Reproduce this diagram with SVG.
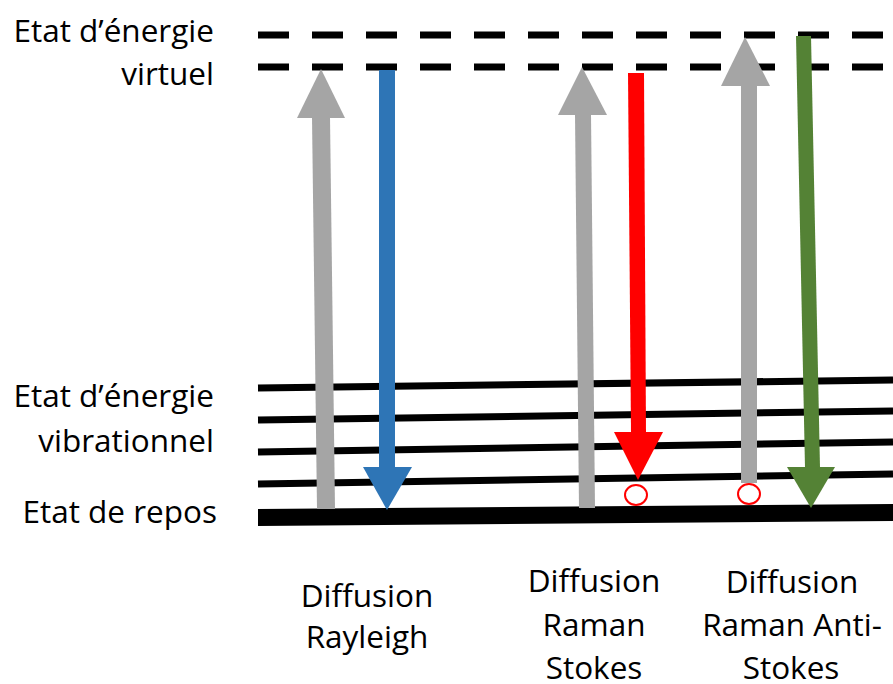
<svg xmlns="http://www.w3.org/2000/svg" width="893" height="684" viewBox="0 0 893 684">
<style>
.t{font-family:"Open Sans","Liberation Sans",sans-serif;font-size:31.5px;fill:#000}
.dash{stroke:#000;stroke-width:7;stroke-dasharray:31 23;fill:none}
.lvl{stroke:#000;stroke-width:7;fill:none}
.gray{fill:#a5a5a5}
.blue{fill:#2e75b6}
.red{fill:#ff0000}
.green{fill:#548235}
.hole{fill:#fff;stroke:#ff0000;stroke-width:2}
</style>
<rect width="893" height="684" fill="#fff"/>
<g id="virtual-level">
<line class="dash" x1="258" y1="35" x2="893" y2="35"/>
<line class="dash" x1="258" y1="67" x2="893" y2="67"/>
</g>
<g id="vibrational-levels">
<line class="lvl" x1="258" y1="388" x2="893" y2="380"/>
<line class="lvl" x1="258" y1="420" x2="893" y2="411"/>
<line class="lvl" x1="258" y1="452" x2="893" y2="442"/>
<line class="lvl" x1="258" y1="484" x2="893" y2="474"/>
</g>
<g id="ground-level">
<polygon points="258,509 893,504 893,521 258,526" fill="#000"/>
</g>
<g id="labels">
<text class="t" x="214" y="42" text-anchor="end">Etat d’énergie</text>
<text class="t" x="214" y="85" text-anchor="end">virtuel</text>
<text class="t" x="214" y="407" text-anchor="end">Etat d’énergie</text>
<text class="t" x="214" y="452" text-anchor="end">vibrationnel</text>
<text class="t" x="217" y="523" text-anchor="end">Etat de repos</text>
<text class="t" x="367" y="607" text-anchor="middle">Diffusion</text>
<text class="t" x="367" y="648" text-anchor="middle">Rayleigh</text>
<text class="t" x="594" y="592" text-anchor="middle">Diffusion</text>
<text class="t" x="594" y="636" text-anchor="middle">Raman</text>
<text class="t" x="594" y="679" text-anchor="middle">Stokes</text>
<text class="t" x="792" y="593" text-anchor="middle">Diffusion</text>
<text class="t" x="792" y="636" text-anchor="middle">Raman Anti-</text>
<text class="t" x="791" y="679" text-anchor="middle">Stokes</text>
</g>
<g id="connectors">
<g id="rayleigh-excitation"><polygon class="gray" points="317,509 335,509 330,117 312,117"/><polygon class="gray" points="297,118 345,118 321,69"/></g>
<g id="rayleigh-emission"><rect class="blue" x="379" y="70" width="16" height="398"/><polygon class="blue" points="363,467 412,467 387,510"/></g>
<g id="stokes-excitation"><polygon class="gray" points="579,508 595,508 591,114 575,114"/><polygon class="gray" points="558,115 607,115 582,67"/></g>
<g id="stokes-emission"><polygon class="red" points="628,73 644,73 646,433 631,433"/><polygon class="red" points="614,432 663,432 638,480"/></g>
<g id="antistokes-excitation"><rect class="gray" x="741" y="85" width="16" height="398"/><polygon class="gray" points="721,86 770,86 745,37"/></g>
<g id="antistokes-emission"><polygon class="green" points="796,36 811,36 820,468 805,468"/><polygon class="green" points="787,467 835,467 811,508"/></g>
</g>
<g id="stokes-hole"><ellipse class="hole" cx="636" cy="495" rx="11" ry="10"/></g>
<g id="antistokes-hole"><ellipse class="hole" cx="749" cy="494" rx="11" ry="10"/></g>
</svg>
